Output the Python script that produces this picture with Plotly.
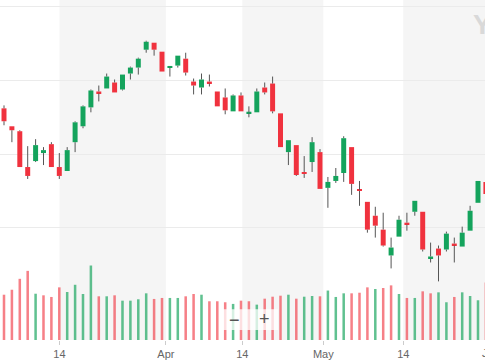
import plotly.graph_objects as go

# ---- data ----
opens = [166.22, 163.78, 163.11, 158.24, 159.05, 160.14, 161.35, 158.24, 157.70, 161.62,
         163.78, 166.35, 168.51, 168.92, 169.73, 168.78, 170.95, 171.76, 174.19, 175.14,
         173.92, 171.76, 172.03, 172.97, 169.86, 169.05, 169.86, 168.51, 167.70, 165.81,
         167.97, 165.54, 165.68, 169.05, 169.59, 165.54, 160.27, 161.22, 157.57, 158.92,
         160.27, 155.41, 156.35, 157.43, 160.95, 155.14, 153.51, 151.62, 149.73, 146.22,
         148.78, 150.68, 152.16, 152.16, 145.81, 147.16, 147.03, 147.84, 147.43, 149.59,
         153.38, 156.22]
highs = [166.62, 163.78, 163.24, 161.08, 162.03, 160.95, 161.62, 160.14, 160.95, 164.46,
         166.62, 168.78, 169.32, 170.95, 170.14, 170.81, 171.89, 173.11, 175.41, 175.14,
         173.92, 171.89, 173.38, 173.78, 170.27, 170.95, 170.81, 168.51, 168.92, 168.11,
         168.38, 166.49, 168.92, 169.73, 170.54, 165.54, 161.89, 161.22, 159.73, 162.30,
         160.68, 156.89, 158.11, 162.43, 160.95, 156.35, 153.51, 152.84, 152.03, 148.65,
         151.62, 152.03, 153.65, 152.16, 147.97, 147.57, 149.46, 148.65, 150.14, 152.97,
         156.35, 156.62]
lows = [163.92, 161.62, 158.24, 156.62, 158.92, 158.51, 158.24, 156.62, 157.70, 160.27,
        163.51, 165.68, 167.16, 168.92, 168.38, 168.65, 170.14, 170.81, 173.78, 173.38,
        171.22, 170.54, 171.76, 170.68, 168.11, 168.11, 169.19, 166.49, 165.41, 165.81,
        165.81, 165.00, 165.68, 168.11, 165.54, 160.95, 158.51, 157.03, 156.76, 157.57,
        155.27, 152.70, 156.08, 156.22, 154.46, 152.97, 149.32, 148.65, 147.43, 144.46,
        148.78, 149.59, 151.62, 146.76, 145.27, 142.70, 146.76, 145.27, 147.43, 149.59,
        153.38, 154.19]
closes = [164.46, 163.24, 158.24, 157.03, 161.22, 160.54, 158.24, 157.03, 160.54, 164.32,
          166.49, 168.65, 168.24, 170.54, 168.38, 170.81, 171.76, 172.97, 175.27, 174.19,
          171.22, 171.89, 173.38, 171.08, 169.32, 170.14, 169.59, 166.49, 165.95, 167.97,
          165.81, 165.68, 168.51, 168.38, 165.81, 160.95, 161.89, 157.16, 157.30, 161.62,
          155.27, 156.22, 157.03, 162.16, 155.95, 155.00, 149.73, 150.27, 147.57, 147.30,
          151.08, 150.41, 153.65, 147.03, 146.08, 146.22, 149.19, 147.57, 149.32, 152.30,
          156.35, 154.59]
volumes_m = [68.4, 75.9, 92.4, 104.4, 69.9, 67.5, 65.0, 79.5, 72.5, 83.4,
             69.5, 112.5, 66.0, 66.0, 67.5, 59.4, 59.4, 61.5, 70.5, 62.0,
             63.5, 63.5, 63.5, 66.0, 69.5, 68.4, 58.5, 58.5, 57.0, 54.5,
             59.4, 58.5, 53.4, 62.4, 65.4, 66.9, 68.4, 62.4, 65.4, 66.5,
             66.0, 74.7, 65.0, 70.5, 70.5, 71.4, 79.5, 77.0, 78.5, 82.5,
             69.5, 63.5, 63.5, 73.5, 70.5, 72.0, 57.0, 65.0, 72.0, 66.5,
             60.0, 87.0]
tick_pos = [7.02, 20.49, 30.17, 40.42, 50.54, 61.6]
tick_text = ["14", "Apr", "14", "May", "14", "Jun"]
price_grid = [150, 160, 170, 180]

X_RANGE = [-0.506, 60.886]
PRICE_RANGE = [134.73, 180.946]
VOL_RANGE = [0, 513.5]

UP = "#14a35c"
DOWN = "#f0323e"
VOL_UP = "rgba(20,163,92,0.68)"
VOL_DOWN = "rgba(240,50,62,0.62)"
WICK = "#555555"

n = len(opens)
x = list(range(n))

body_base = [min(o, c) for o, c in zip(opens, closes)]
body_h = [max(abs(c - o), 0.22) for o, c in zip(opens, closes)]
body_col = [UP if c >= o else DOWN for o, c in zip(opens, closes)]

vol_col = []
for i in range(n):
    ref = closes[i - 1] if i > 0 else opens[i]
    vol_col.append(VOL_UP if closes[i] >= ref else VOL_DOWN)

wx, wy = [], []
for i in range(n):
    lo_b = min(opens[i], closes[i])
    hi_b = max(opens[i], closes[i])
    if lows[i] < lo_b:
        wx += [i, i, None]
        wy += [lows[i], lo_b, None]
    if highs[i] > hi_b:
        wx += [i, i, None]
        wy += [hi_b, highs[i], None]

fig = go.Figure()
fig.add_trace(go.Bar(x=x, y=volumes_m, width=0.32, marker_color=vol_col,
                     marker_line_width=0, yaxis="y", hoverinfo="skip"))
fig.add_trace(go.Scatter(x=wx, y=wy, mode="lines", line=dict(color=WICK, width=1),
                         yaxis="y2", hoverinfo="skip"))
fig.add_trace(go.Bar(x=x, y=body_h, base=body_base, width=0.63, marker_color=body_col,
                     marker_line_width=0, yaxis="y2", hoverinfo="skip"))

shapes = []
for a, b in [(0, 1), (2, 3), (4, 5)]:
    shapes.append(dict(type="rect", xref="x", yref="paper", x0=tick_pos[a], x1=tick_pos[b],
                       y0=0, y1=1, fillcolor="#f5f5f5", line=dict(width=0), layer="below"))
# zoom control overlay
shapes.append(dict(type="rect", xref="paper", yref="paper", x0=222 / 485, x1=278 / 485,
                   y0=1 - 332 / 342, y1=1 - 311 / 342, fillcolor="rgba(255,255,255,0.75)",
                   line=dict(width=0), layer="above"))

annotations = [
    dict(text="<b>Y</b>", xref="paper", yref="paper", x=471 / 485, y=1 - 25 / 342,
         xanchor="left", yanchor="middle", showarrow=False,
         font=dict(size=28, color="#d9d9d9", family="Liberation Sans")),
    dict(text="−", xref="paper", yref="paper", x=234 / 485, y=1 - 322 / 342,
         xanchor="center", yanchor="middle", showarrow=False,
         font=dict(size=18, color="#555555", family="Liberation Sans")),
    dict(text="+", xref="paper", yref="paper", x=264 / 485, y=1 - 321 / 342,
         xanchor="center", yanchor="middle", showarrow=False,
         font=dict(size=18, color="#555555", family="Liberation Sans")),
    dict(text=tick_text[-1], xref="paper", yref="paper",
         x=(tick_pos[-1] - X_RANGE[0]) / (X_RANGE[1] - X_RANGE[0]), y=0,
         xanchor="center", yanchor="top", yshift=-5, showarrow=False,
         font=dict(size=11, color="#666666", family="Liberation Sans")),
]

fig.update_layout(
    width=485, height=360,
    margin=dict(l=0, r=0, t=0, b=18),
    paper_bgcolor="white", plot_bgcolor="white",
    showlegend=False, barmode="overlay",
    shapes=shapes, annotations=annotations,
    xaxis=dict(range=X_RANGE, showgrid=False, zeroline=False, showline=False,
               tickvals=tick_pos[:-1], ticktext=tick_text[:-1], ticks="outside",
               ticklen=4, tickcolor="#cccccc",
               tickfont=dict(size=11, color="#666666", family="Liberation Sans")),
    yaxis=dict(range=VOL_RANGE, showgrid=False, zeroline=False, showticklabels=False),
    yaxis2=dict(range=PRICE_RANGE, overlaying="y", side="right", tickvals=price_grid,
                showticklabels=False, showgrid=True, gridcolor="#ebebeb", gridwidth=1,
                zeroline=False),
)

fig.write_html("out.html", config={"displayModeBar": False})
